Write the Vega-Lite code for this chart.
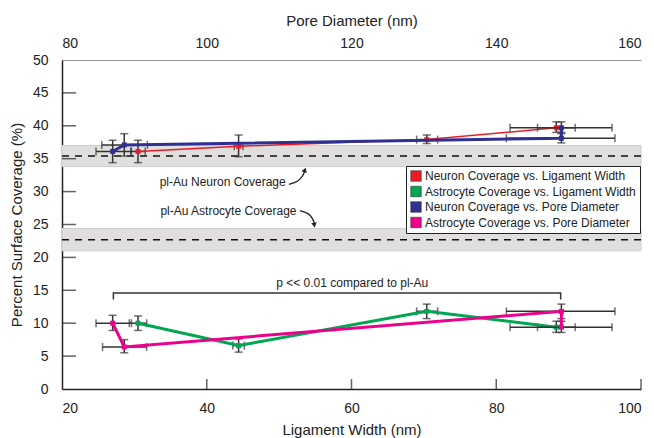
{
  "$schema": "https://vega.github.io/schema/vega-lite/v6.json",
  "width": 579,
  "height": 329,
  "autosize": "none",
  "padding": {"left": 62, "top": 60, "right": 13, "bottom": 49},
  "background": "white",
  "config": {
    "font": "Liberation Sans",
    "view": {"stroke": null},
    "axis": {"labelFontSize": 14, "titleFontSize": 15, "titleFontWeight": "normal", "labelColor": "#222", "titleColor": "#222", "domainColor": "#222", "tickColor": "#222", "domainWidth": 1.5, "tickWidth": 1.5, "grid": false}
  },
  "datasets": {
    "pts": [
      {"series": "Neuron Coverage vs. Ligament Width", "sample": 1, "x": 30.5, "y": 36.1, "xlo": 29.5, "xhi": 31.5, "ylo": 34.4, "yhi": 37.8},
      {"series": "Neuron Coverage vs. Ligament Width", "sample": 2, "x": 44.4, "y": 36.9, "xlo": 43.8, "xhi": 45.0, "ylo": 35.3, "yhi": 38.6},
      {"series": "Neuron Coverage vs. Ligament Width", "sample": 3, "x": 70.4, "y": 37.9, "xlo": 69.0, "xhi": 71.9, "ylo": 37.3, "yhi": 38.6},
      {"series": "Neuron Coverage vs. Ligament Width", "sample": 4, "x": 88.3, "y": 39.7, "xlo": 85.7, "xhi": 90.9, "ylo": 39.0, "yhi": 40.6},
      {"series": "Astrocyte Coverage vs. Ligament Width", "sample": 1, "x": 30.5, "y": 10.0, "xlo": 29.3, "xhi": 31.7, "ylo": 8.9, "yhi": 11.1},
      {"series": "Astrocyte Coverage vs. Ligament Width", "sample": 2, "x": 44.4, "y": 6.6, "xlo": 43.6, "xhi": 45.2, "ylo": 5.6, "yhi": 7.6},
      {"series": "Astrocyte Coverage vs. Ligament Width", "sample": 3, "x": 70.4, "y": 11.8, "xlo": 69.0, "xhi": 71.9, "ylo": 10.7, "yhi": 12.9},
      {"series": "Astrocyte Coverage vs. Ligament Width", "sample": 4, "x": 88.3, "y": 9.4, "xlo": 85.7, "xhi": 90.9, "ylo": 8.6, "yhi": 10.3},
      {"series": "Neuron Coverage vs. Pore Diameter", "sample": 1, "x": 87.0, "y": 36.1, "xlo": 84.7, "xhi": 89.6, "ylo": 34.4, "yhi": 37.8},
      {"series": "Neuron Coverage vs. Pore Diameter", "sample": 2, "x": 88.6, "y": 37.1, "xlo": 85.5, "xhi": 91.8, "ylo": 35.4, "yhi": 38.8},
      {"series": "Neuron Coverage vs. Pore Diameter", "sample": 3, "x": 149.0, "y": 38.1, "xlo": 141.4, "xhi": 156.4, "ylo": 37.4, "yhi": 38.8},
      {"series": "Neuron Coverage vs. Pore Diameter", "sample": 4, "x": 149.0, "y": 39.7, "xlo": 141.9, "xhi": 156.0, "ylo": 39.0, "yhi": 40.6},
      {"series": "Astrocyte Coverage vs. Pore Diameter", "sample": 1, "x": 87.0, "y": 10.0, "xlo": 84.7, "xhi": 89.6, "ylo": 8.9, "yhi": 11.2},
      {"series": "Astrocyte Coverage vs. Pore Diameter", "sample": 2, "x": 88.6, "y": 6.4, "xlo": 85.6, "xhi": 91.7, "ylo": 5.5, "yhi": 7.5},
      {"series": "Astrocyte Coverage vs. Pore Diameter", "sample": 3, "x": 149.0, "y": 11.8, "xlo": 141.4, "xhi": 156.4, "ylo": 10.7, "yhi": 12.9},
      {"series": "Astrocyte Coverage vs. Pore Diameter", "sample": 4, "x": 149.0, "y": 9.4, "xlo": 141.9, "xhi": 156.0, "ylo": 8.6, "yhi": 10.3}
    ],
    "bands": [
      {"name": "Neuron", "mean": 35.4, "lo": 33.8, "hi": 37.0},
      {"name": "Astrocyte", "mean": 22.7, "lo": 21.0, "hi": 24.4}
    ],
    "notes": [
      {"text": "pl-Au Neuron Coverage", "x": 42.2, "y": 31.5},
      {"text": "pl-Au Astrocyte Coverage", "x": 43.0, "y": 27.0},
      {"text": "p << 0.01 compared to pl-Au", "x": 60.1, "y": 16.1}
    ],
    "arrows": [
      {"a": "n", "i": 1, "x": 51.35, "y": 31.1},
      {"a": "n", "i": 2, "x": 52.6, "y": 31.5},
      {"a": "n", "i": 3, "x": 53.3, "y": 32.4},
      {"a": "n", "i": 4, "x": 53.5, "y": 33.0},
      {"a": "a", "i": 1, "x": 52.87, "y": 27.1},
      {"a": "a", "i": 2, "x": 54.1, "y": 26.75},
      {"a": "a", "i": 3, "x": 54.7, "y": 25.8},
      {"a": "a", "i": 4, "x": 54.85, "y": 25.2}
    ],
    "heads": [
      {"a": "n", "x": 53.56, "y": 33.3},
      {"a": "a", "x": 54.87, "y": 24.9}
    ],
    "bracket": [
      {"i": 1, "x": 27.1, "y": 13.6},
      {"i": 2, "x": 27.1, "y": 14.6},
      {"i": 3, "x": 88.9, "y": 14.6},
      {"i": 4, "x": 88.9, "y": 13.6}
    ],
    "yticks": [{"v": 5}, {"v": 10}, {"v": 15}, {"v": 20}, {"v": 25}, {"v": 30}, {"v": 35}, {"v": 40}, {"v": 45}],
    "xticks": [{"v": 40}, {"v": 60}, {"v": 80}, {"v": 100}]
  },
  "layer": [
    {
      "layer": [
        {
          "data": {"name": "bands"},
          "mark": {"type": "rect", "color": "#e1dfdd", "stroke": "#cfcdcb", "strokeWidth": 1},
          "encoding": {
            "y": {"field": "lo", "type": "quantitative", "scale": {"domain": [0, 50], "nice": false}, "title": "Percent Surface Coverage (%)",
              "axis": {"orient": "left", "values": [0, 5, 10, 15, 20, 25, 30, 35, 40, 45, 50], "ticks": false, "labelPadding": 14, "title": "Percent Surface Coverage (%)", "titlePadding": 8}},
            "y2": {"field": "hi"}
          }
        },
        {
          "data": {"name": "bands"},
          "mark": {"type": "rule", "color": "#111", "strokeWidth": 1.5, "strokeDash": [7, 6]},
          "encoding": {
            "y": {"field": "mean", "type": "quantitative", "scale": {"domain": [0, 50], "nice": false}, "title": "Percent Surface Coverage (%)",
              "axis": {"orient": "left", "values": [0, 5, 10, 15, 20, 25, 30, 35, 40, 45, 50], "ticks": false, "labelPadding": 14, "title": "Percent Surface Coverage (%)", "titlePadding": 8}}
          }
        },
        {
          "data": {"name": "yticks"},
          "mark": {"type": "tick", "orient": "horizontal", "size": 14, "thickness": 1.5, "color": "#222", "xOffset": 7},
          "encoding": {
            "x": {"datum": 20, "type": "quantitative", "scale": {"domain": [20, 100], "nice": false}, "title": "Ligament Width (nm)",
              "axis": {"orient": "bottom", "values": [20, 40, 60, 80, 100], "ticks": false, "labelPadding": 12, "title": "Ligament Width (nm)", "titlePadding": 7}},
            "y": {"field": "v", "type": "quantitative", "scale": {"domain": [0, 50], "nice": false}, "title": "Percent Surface Coverage (%)",
              "axis": {"orient": "left", "values": [0, 5, 10, 15, 20, 25, 30, 35, 40, 45, 50], "ticks": false, "labelPadding": 14, "title": "Percent Surface Coverage (%)", "titlePadding": 8}}
          }
        },
        {
          "data": {"name": "xticks"},
          "mark": {"type": "tick", "orient": "vertical", "size": 10, "thickness": 1.5, "color": "#222", "yOffset": -5},
          "encoding": {
            "x": {"field": "v", "type": "quantitative", "scale": {"domain": [20, 100], "nice": false}, "title": "Ligament Width (nm)",
              "axis": {"orient": "bottom", "values": [20, 40, 60, 80, 100], "ticks": false, "labelPadding": 12, "title": "Ligament Width (nm)", "titlePadding": 7}},
            "y": {"datum": 0, "type": "quantitative", "scale": {"domain": [0, 50], "nice": false}, "title": "Percent Surface Coverage (%)",
              "axis": {"orient": "left", "values": [0, 5, 10, 15, 20, 25, 30, 35, 40, 45, 50], "ticks": false, "labelPadding": 14, "title": "Percent Surface Coverage (%)", "titlePadding": 8}}
          }
        },
        {
          "data": {"name": "bracket"},
          "mark": {"type": "line", "color": "#333", "strokeWidth": 1.5},
          "encoding": {
            "x": {"field": "x", "type": "quantitative", "scale": {"domain": [20, 100], "nice": false}, "title": "Ligament Width (nm)",
              "axis": {"orient": "bottom", "values": [20, 40, 60, 80, 100], "ticks": false, "labelPadding": 12, "title": "Ligament Width (nm)", "titlePadding": 7}},
            "y": {"field": "y", "type": "quantitative", "scale": {"domain": [0, 50], "nice": false}, "title": "Percent Surface Coverage (%)",
              "axis": {"orient": "left", "values": [0, 5, 10, 15, 20, 25, 30, 35, 40, 45, 50], "ticks": false, "labelPadding": 14, "title": "Percent Surface Coverage (%)", "titlePadding": 8}},
            "order": {"field": "i"}
          }
        },
        {
          "data": {"name": "notes"},
          "mark": {"type": "text", "fontSize": 12, "align": "center", "baseline": "middle", "color": "#222"},
          "encoding": {
            "x": {"field": "x", "type": "quantitative", "scale": {"domain": [20, 100], "nice": false}, "title": "Ligament Width (nm)",
              "axis": {"orient": "bottom", "values": [20, 40, 60, 80, 100], "ticks": false, "labelPadding": 12, "title": "Ligament Width (nm)", "titlePadding": 7}},
            "y": {"field": "y", "type": "quantitative", "scale": {"domain": [0, 50], "nice": false}, "title": "Percent Surface Coverage (%)",
              "axis": {"orient": "left", "values": [0, 5, 10, 15, 20, 25, 30, 35, 40, 45, 50], "ticks": false, "labelPadding": 14, "title": "Percent Surface Coverage (%)", "titlePadding": 8}},
            "text": {"field": "text"}
          }
        },
        {
          "data": {"name": "arrows"},
          "mark": {"type": "line", "color": "#222", "strokeWidth": 1.3, "interpolate": "basis"},
          "encoding": {
            "x": {"field": "x", "type": "quantitative", "scale": {"domain": [20, 100], "nice": false}, "title": "Ligament Width (nm)",
              "axis": {"orient": "bottom", "values": [20, 40, 60, 80, 100], "ticks": false, "labelPadding": 12, "title": "Ligament Width (nm)", "titlePadding": 7}},
            "y": {"field": "y", "type": "quantitative", "scale": {"domain": [0, 50], "nice": false}, "title": "Percent Surface Coverage (%)",
              "axis": {"orient": "left", "values": [0, 5, 10, 15, 20, 25, 30, 35, 40, 45, 50], "ticks": false, "labelPadding": 14, "title": "Percent Surface Coverage (%)", "titlePadding": 8}},
            "detail": {"field": "a"},
            "order": {"field": "i"}
          }
        },
        {
          "data": {"name": "heads"},
          "transform": [{"filter": "datum.a == 'n'"}],
          "mark": {"type": "point", "shape": "triangle-up", "filled": true, "color": "#222", "size": 30, "angle": 20, "opacity": 1},
          "encoding": {
            "x": {"field": "x", "type": "quantitative", "scale": {"domain": [20, 100], "nice": false}, "title": "Ligament Width (nm)",
              "axis": {"orient": "bottom", "values": [20, 40, 60, 80, 100], "ticks": false, "labelPadding": 12, "title": "Ligament Width (nm)", "titlePadding": 7}},
            "y": {"field": "y", "type": "quantitative", "scale": {"domain": [0, 50], "nice": false}, "title": "Percent Surface Coverage (%)",
              "axis": {"orient": "left", "values": [0, 5, 10, 15, 20, 25, 30, 35, 40, 45, 50], "ticks": false, "labelPadding": 14, "title": "Percent Surface Coverage (%)", "titlePadding": 8}}
          }
        },
        {
          "data": {"name": "heads"},
          "transform": [{"filter": "datum.a == 'a'"}],
          "mark": {"type": "point", "shape": "triangle-down", "filled": true, "color": "#222", "size": 30, "angle": -10, "opacity": 1},
          "encoding": {
            "x": {"field": "x", "type": "quantitative", "scale": {"domain": [20, 100], "nice": false}, "title": "Ligament Width (nm)",
              "axis": {"orient": "bottom", "values": [20, 40, 60, 80, 100], "ticks": false, "labelPadding": 12, "title": "Ligament Width (nm)", "titlePadding": 7}},
            "y": {"field": "y", "type": "quantitative", "scale": {"domain": [0, 50], "nice": false}, "title": "Percent Surface Coverage (%)",
              "axis": {"orient": "left", "values": [0, 5, 10, 15, 20, 25, 30, 35, 40, 45, 50], "ticks": false, "labelPadding": 14, "title": "Percent Surface Coverage (%)", "titlePadding": 8}}
          }
        },
        {
          "data": {"name": "pts"},
          "transform": [{"filter": "indexof(datum.series, 'Ligament') >= 0"}],
          "mark": {"type": "errorbar", "ticks": {"size": 8}, "color": "#333", "thickness": 1.5},
          "encoding": {
            "x": {"field": "x", "type": "quantitative", "scale": {"domain": [20, 100], "nice": false}, "title": "Ligament Width (nm)",
              "axis": {"orient": "bottom", "values": [20, 40, 60, 80, 100], "ticks": false, "labelPadding": 12, "title": "Ligament Width (nm)", "titlePadding": 7}},
            "y": {"field": "ylo", "type": "quantitative", "scale": {"domain": [0, 50], "nice": false}, "title": "Percent Surface Coverage (%)",
              "axis": {"orient": "left", "values": [0, 5, 10, 15, 20, 25, 30, 35, 40, 45, 50], "ticks": false, "labelPadding": 14, "title": "Percent Surface Coverage (%)", "titlePadding": 8}},
            "y2": {"field": "yhi"}
          }
        },
        {
          "data": {"name": "pts"},
          "transform": [{"filter": "indexof(datum.series, 'Ligament') >= 0"}],
          "mark": {"type": "errorbar", "ticks": {"size": 8}, "color": "#333", "thickness": 1.5},
          "encoding": {
            "y": {"field": "y", "type": "quantitative", "scale": {"domain": [0, 50], "nice": false}, "title": "Percent Surface Coverage (%)",
              "axis": {"orient": "left", "values": [0, 5, 10, 15, 20, 25, 30, 35, 40, 45, 50], "ticks": false, "labelPadding": 14, "title": "Percent Surface Coverage (%)", "titlePadding": 8}},
            "x": {"field": "xlo", "type": "quantitative", "scale": {"domain": [20, 100], "nice": false}, "title": "Ligament Width (nm)",
              "axis": {"orient": "bottom", "values": [20, 40, 60, 80, 100], "ticks": false, "labelPadding": 12, "title": "Ligament Width (nm)", "titlePadding": 7}},
            "x2": {"field": "xhi"}
          }
        },
        {
          "data": {"name": "pts"},
          "transform": [{"filter": "datum.series == 'Neuron Coverage vs. Ligament Width'"}],
          "mark": {"type": "line", "color": "#ed1c24", "strokeWidth": 1.5},
          "encoding": {
            "x": {"field": "x", "type": "quantitative", "scale": {"domain": [20, 100], "nice": false}, "title": "Ligament Width (nm)",
              "axis": {"orient": "bottom", "values": [20, 40, 60, 80, 100], "ticks": false, "labelPadding": 12, "title": "Ligament Width (nm)", "titlePadding": 7}},
            "y": {"field": "y", "type": "quantitative", "scale": {"domain": [0, 50], "nice": false}, "title": "Percent Surface Coverage (%)",
              "axis": {"orient": "left", "values": [0, 5, 10, 15, 20, 25, 30, 35, 40, 45, 50], "ticks": false, "labelPadding": 14, "title": "Percent Surface Coverage (%)", "titlePadding": 8}},
            "order": {"field": "sample"}
          }
        },
        {
          "data": {"name": "pts"},
          "transform": [{"filter": "datum.series == 'Astrocyte Coverage vs. Ligament Width'"}],
          "mark": {"type": "line", "color": "#00a651", "strokeWidth": 3},
          "encoding": {
            "x": {"field": "x", "type": "quantitative", "scale": {"domain": [20, 100], "nice": false}, "title": "Ligament Width (nm)",
              "axis": {"orient": "bottom", "values": [20, 40, 60, 80, 100], "ticks": false, "labelPadding": 12, "title": "Ligament Width (nm)", "titlePadding": 7}},
            "y": {"field": "y", "type": "quantitative", "scale": {"domain": [0, 50], "nice": false}, "title": "Percent Surface Coverage (%)",
              "axis": {"orient": "left", "values": [0, 5, 10, 15, 20, 25, 30, 35, 40, 45, 50], "ticks": false, "labelPadding": 14, "title": "Percent Surface Coverage (%)", "titlePadding": 8}},
            "order": {"field": "sample"}
          }
        },
        {
          "data": {"name": "pts"},
          "transform": [{"filter": "indexof(datum.series, 'Ligament') >= 0"}],
          "mark": {"type": "point", "shape": "square", "filled": true, "size": 25, "opacity": 1},
          "encoding": {
            "x": {"field": "x", "type": "quantitative", "scale": {"domain": [20, 100], "nice": false}, "title": "Ligament Width (nm)",
              "axis": {"orient": "bottom", "values": [20, 40, 60, 80, 100], "ticks": false, "labelPadding": 12, "title": "Ligament Width (nm)", "titlePadding": 7}},
            "y": {"field": "y", "type": "quantitative", "scale": {"domain": [0, 50], "nice": false}, "title": "Percent Surface Coverage (%)",
              "axis": {"orient": "left", "values": [0, 5, 10, 15, 20, 25, 30, 35, 40, 45, 50], "ticks": false, "labelPadding": 14, "title": "Percent Surface Coverage (%)", "titlePadding": 8}},
            "color": {"field": "series", "type": "nominal",
              "scale": {"domain": ["Neuron Coverage vs. Ligament Width", "Astrocyte Coverage vs. Ligament Width", "Neuron Coverage vs. Pore Diameter", "Astrocyte Coverage vs. Pore Diameter"], "range": ["#ed1c24", "#00a651", "#2e3192", "#ec008c"]},
              "legend": {"title": null, "orient": "none", "legendX": 344, "legendY": 106, "symbolType": "square", "symbolSize": 110, "symbolStrokeWidth": 0.6, "symbolStrokeColor": "#333", "labelFontSize": 12, "labelColor": "#222", "labelLimit": 400, "strokeColor": "#222", "fillColor": "white", "padding": 4, "rowPadding": 1.5, "labelOffset": 3}}
          }
        }
      ]
    },
    {
      "layer": [
        {
          "data": {"name": "pts"},
          "transform": [{"filter": "indexof(datum.series, 'Pore') >= 0"}],
          "mark": {"type": "errorbar", "ticks": {"size": 8}, "color": "#333", "thickness": 1.5},
          "encoding": {
            "x": {"field": "x", "type": "quantitative", "scale": {"domain": [80, 160], "nice": false}, "title": "Pore Diameter (nm)",
              "axis": {"orient": "top", "values": [80, 100, 120, 140, 160], "ticks": false, "domainColor": "#999", "domainWidth": 1, "labelPadding": 10, "title": "Pore Diameter (nm)", "titlePadding": 8}},
            "y": {"field": "ylo", "type": "quantitative", "scale": {"domain": [0, 50], "nice": false}, "title": "Percent Surface Coverage (%)",
              "axis": {"orient": "left", "values": [0, 5, 10, 15, 20, 25, 30, 35, 40, 45, 50], "ticks": false, "labelPadding": 14, "title": "Percent Surface Coverage (%)", "titlePadding": 8}},
            "y2": {"field": "yhi"}
          }
        },
        {
          "data": {"name": "pts"},
          "transform": [{"filter": "indexof(datum.series, 'Pore') >= 0"}],
          "mark": {"type": "errorbar", "ticks": {"size": 8}, "color": "#333", "thickness": 1.5},
          "encoding": {
            "y": {"field": "y", "type": "quantitative", "scale": {"domain": [0, 50], "nice": false}, "title": "Percent Surface Coverage (%)",
              "axis": {"orient": "left", "values": [0, 5, 10, 15, 20, 25, 30, 35, 40, 45, 50], "ticks": false, "labelPadding": 14, "title": "Percent Surface Coverage (%)", "titlePadding": 8}},
            "x": {"field": "xlo", "type": "quantitative", "scale": {"domain": [80, 160], "nice": false}, "title": "Pore Diameter (nm)",
              "axis": {"orient": "top", "values": [80, 100, 120, 140, 160], "ticks": false, "domainColor": "#999", "domainWidth": 1, "labelPadding": 10, "title": "Pore Diameter (nm)", "titlePadding": 8}},
            "x2": {"field": "xhi"}
          }
        },
        {
          "data": {"name": "pts"},
          "transform": [{"filter": "datum.series == 'Neuron Coverage vs. Pore Diameter'"}],
          "mark": {"type": "line", "color": "#2e3192", "strokeWidth": 3},
          "encoding": {
            "x": {"field": "x", "type": "quantitative", "scale": {"domain": [80, 160], "nice": false}, "title": "Pore Diameter (nm)",
              "axis": {"orient": "top", "values": [80, 100, 120, 140, 160], "ticks": false, "domainColor": "#999", "domainWidth": 1, "labelPadding": 10, "title": "Pore Diameter (nm)", "titlePadding": 8}},
            "y": {"field": "y", "type": "quantitative", "scale": {"domain": [0, 50], "nice": false}, "title": "Percent Surface Coverage (%)",
              "axis": {"orient": "left", "values": [0, 5, 10, 15, 20, 25, 30, 35, 40, 45, 50], "ticks": false, "labelPadding": 14, "title": "Percent Surface Coverage (%)", "titlePadding": 8}},
            "order": {"field": "sample"}
          }
        },
        {
          "data": {"name": "pts"},
          "transform": [{"filter": "datum.series == 'Astrocyte Coverage vs. Pore Diameter'"}],
          "mark": {"type": "line", "color": "#ec008c", "strokeWidth": 3},
          "encoding": {
            "x": {"field": "x", "type": "quantitative", "scale": {"domain": [80, 160], "nice": false}, "title": "Pore Diameter (nm)",
              "axis": {"orient": "top", "values": [80, 100, 120, 140, 160], "ticks": false, "domainColor": "#999", "domainWidth": 1, "labelPadding": 10, "title": "Pore Diameter (nm)", "titlePadding": 8}},
            "y": {"field": "y", "type": "quantitative", "scale": {"domain": [0, 50], "nice": false}, "title": "Percent Surface Coverage (%)",
              "axis": {"orient": "left", "values": [0, 5, 10, 15, 20, 25, 30, 35, 40, 45, 50], "ticks": false, "labelPadding": 14, "title": "Percent Surface Coverage (%)", "titlePadding": 8}},
            "order": {"field": "sample"}
          }
        },
        {
          "data": {"name": "pts"},
          "transform": [{"filter": "indexof(datum.series, 'Pore') >= 0"}],
          "mark": {"type": "point", "shape": "square", "filled": true, "size": 25, "opacity": 1},
          "encoding": {
            "x": {"field": "x", "type": "quantitative", "scale": {"domain": [80, 160], "nice": false}, "title": "Pore Diameter (nm)",
              "axis": {"orient": "top", "values": [80, 100, 120, 140, 160], "ticks": false, "domainColor": "#999", "domainWidth": 1, "labelPadding": 10, "title": "Pore Diameter (nm)", "titlePadding": 8}},
            "y": {"field": "y", "type": "quantitative", "scale": {"domain": [0, 50], "nice": false}, "title": "Percent Surface Coverage (%)",
              "axis": {"orient": "left", "values": [0, 5, 10, 15, 20, 25, 30, 35, 40, 45, 50], "ticks": false, "labelPadding": 14, "title": "Percent Surface Coverage (%)", "titlePadding": 8}},
            "color": {"field": "series", "type": "nominal"}
          }
        }
      ]
    }
  ],
  "resolve": {"scale": {"x": "independent"}}
}
